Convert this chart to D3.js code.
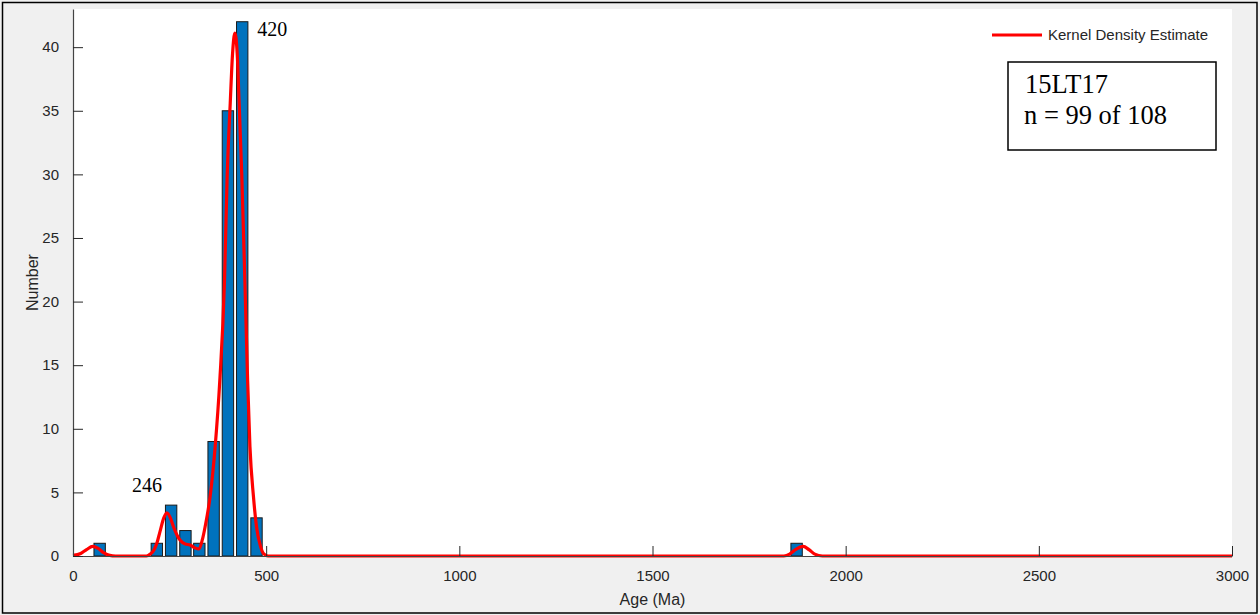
<!DOCTYPE html>
<html>
<head>
<meta charset="utf-8">
<script src="https://cdn.jsdelivr.net/npm/d3@7"></script>
<style>
  body { margin: 0; background: #f0f0f0; }
  svg { display: block; font-family: "Liberation Sans", Arial, Helvetica, sans-serif; }
</style>
</head>
<body>
<div id="chart"></div>
<script>
// histogram bins (centre age, Ma) and counts
var binCenters = [69, 217, 254, 291, 327, 364, 401, 438, 475, 1873];
var binCounts  = [1, 1, 4, 2, 1, 9, 35, 42, 3, 1];
var binWidth = 36.8;

// kernel density estimate
var kdeAge = [0, 20, 35, 51, 65, 80, 95, 110, 190, 200, 210, 217, 225, 235, 243, 252, 260, 270, 277, 290, 303, 315, 326,
              335, 342, 355, 368, 380, 392, 399, 407, 413, 419, 425, 430, 437, 445, 452, 458, 467, 475, 485, 493, 505,
              1840, 1855, 1870, 1890, 1905, 1920, 1940, 3000];
var kdeVal = [0.05, 0.2, 0.5, 0.75, 0.6, 0.25, 0.05, 0, 0, 0.15, 0.5, 1.0, 1.9, 3.0, 3.4, 3.0, 2.3, 1.6, 1.26, 0.95, 0.86, 0.65, 0.55,
              1.3, 2.3, 4.7, 8.6, 13.8, 21.5, 29.8, 35.6, 39.5, 41.1, 39.5, 35.6, 29.8, 21.5, 13.8, 8.6, 4.7, 2.3, 0.8, 0.2, 0,
              0, 0.15, 0.5, 0.75, 0.5, 0.15, 0, 0];

var xTicks = [0, 500, 1000, 1500, 2000, 2500, 3000];
var yTicks = [0, 5, 10, 15, 20, 25, 30, 35, 40];

var peakLabels = [{ age: 420, text: "420", dx: 22, y: 40.9 }, { age: 246, text: "246", dx: -36, y: 5.0 }];

var W = 1260, H = 615;
var margin = { left: 73, right: 28, top: 9, bottom: 59 };

var svg = d3.select("#chart").append("svg").attr("width", W).attr("height", H);

svg.append("rect").attr("x", 0).attr("y", 0).attr("width", W).attr("height", H).attr("fill", "#f0f0f0");
svg.append("rect").attr("x", 2.5).attr("y", 2.5).attr("width", 1254.5).attr("height", 610.5)
    .attr("fill", "none").attr("stroke", "#000").attr("stroke-width", 1.5);

var x = d3.scaleLinear().domain([0, 3000]).range([margin.left, W - margin.right]);
var y = d3.scaleLinear().domain([0, 43]).range([H - margin.bottom, margin.top]);

svg.append("rect")
    .attr("x", x(0)).attr("y", y(43))
    .attr("width", x(3000) - x(0)).attr("height", y(0) - y(43))
    .attr("fill", "#fff");

// bars
var bars = binCenters.map(function (c, i) { return { c: c, n: binCounts[i] }; });
svg.append("g").selectAll("rect").data(bars).enter().append("rect")
    .attr("x", function (d) { return x(d.c - binWidth * 0.4); })
    .attr("y", function (d) { return y(d.n); })
    .attr("width", function (d) { return x(d.c + binWidth * 0.4) - x(d.c - binWidth * 0.4); })
    .attr("height", function (d) { return y(0) - y(d.n); })
    .attr("fill", "#0072bd")
    .attr("stroke", "#1a1a1a")
    .attr("stroke-width", 1);

// kde line
var kde = kdeAge.map(function (a, i) { return { age: a, v: kdeVal[i] }; });
var line = d3.line()
    .x(function (d) { return x(d.age); })
    .y(function (d) { return y(d.v); })
    .curve(d3.curveMonotoneX);
svg.append("path").datum(kde)
    .attr("d", line)
    .attr("fill", "none")
    .attr("stroke", "#ff0000")
    .attr("stroke-width", 3.2)
    .attr("stroke-linejoin", "round");

// axes
var axisColor = "#262626";
var gx = svg.append("g").attr("transform", "translate(0," + y(0) + ")")
    .call(d3.axisBottom(x).tickValues(xTicks).tickFormat(d3.format("d"))
        .tickSizeInner(-10).tickSizeOuter(0).tickPadding(14));
var gy = svg.append("g").attr("transform", "translate(" + x(0) + ",0)")
    .call(d3.axisLeft(y).tickValues(yTicks).tickSizeInner(-10).tickSizeOuter(0).tickPadding(14));
[gx, gy].forEach(function (g) {
    g.select(".domain").attr("stroke", "#444").attr("stroke-width", 1.2);
    g.selectAll(".tick line").attr("stroke", axisColor);
    g.selectAll(".tick text").attr("fill", axisColor)
        .style("font-size", "15px").style("font-family", "'Liberation Sans', Arial, sans-serif");
});

svg.append("text")
    .attr("x", x(1500)).attr("y", 605)
    .attr("text-anchor", "middle")
    .attr("fill", axisColor)
    .style("font-size", "16px")
    .text("Age (Ma)");

svg.append("text")
    .attr("transform", "translate(38," + y(21.5) + ") rotate(-90)")
    .attr("text-anchor", "middle")
    .attr("fill", axisColor)
    .style("font-size", "16px")
    .text("Number");

// peak annotations
svg.append("g").selectAll("text").data(peakLabels).enter().append("text")
    .attr("x", function (d) { return x(d.age) + d.dx; })
    .attr("y", function (d) { return y(d.y); })
    .attr("text-anchor", "start")
    .style("font-family", "'Liberation Serif', 'Times New Roman', serif")
    .style("font-size", "20px")
    .attr("fill", "#000")
    .text(function (d) { return d.text; });

// legend
svg.append("line")
    .attr("x1", 992).attr("x2", 1042).attr("y1", 35).attr("y2", 35)
    .attr("stroke", "#ff0000").attr("stroke-width", 3);
svg.append("text")
    .attr("x", 1048).attr("y", 40)
    .attr("fill", axisColor)
    .style("font-size", "15px")
    .text("Kernel Density Estimate");

// sample info box
svg.append("rect")
    .attr("x", 1008).attr("y", 62).attr("width", 208).attr("height", 88)
    .attr("fill", "#fff").attr("stroke", "#000").attr("stroke-width", 1.5);
var info = svg.append("text")
    .style("font-family", "'Liberation Serif', 'Times New Roman', serif")
    .style("font-size", "26.5px")
    .attr("fill", "#000");
info.append("tspan").attr("x", 1025).attr("y", 93).text("15LT17");
info.append("tspan").attr("x", 1024).attr("y", 124).text("n = 99 of 108");
</script>
</body>
</html>
